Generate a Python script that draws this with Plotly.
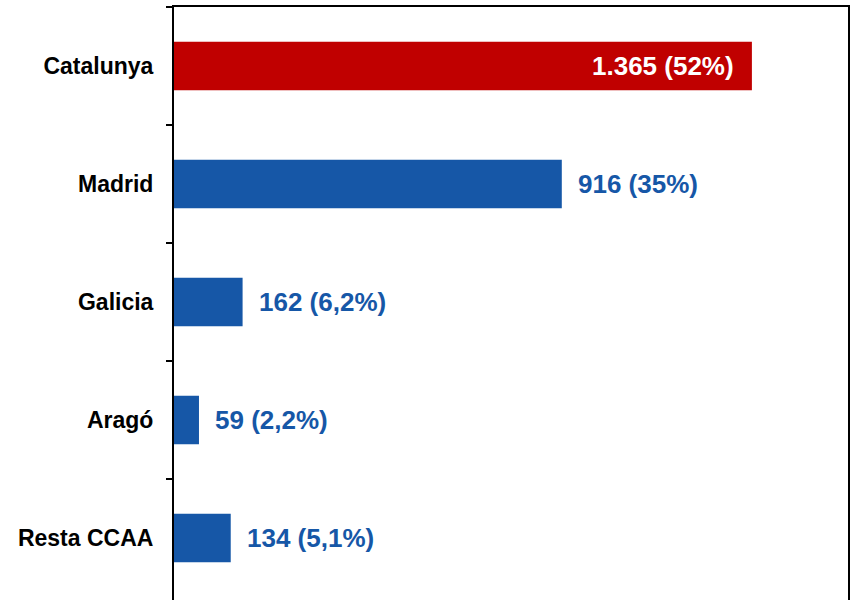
import plotly.graph_objects as go

regions = ["Resta CCAA", "Aragó", "Galicia", "Madrid", "Catalunya"]
values = [134, 59, 162, 916, 1365]
labels = ["134 (5,1%)", "59 (2,2%)", "162 (6,2%)", "916 (35%)", "1.365 (52%)"]
colors = ["#1657A7", "#1657A7", "#1657A7", "#1657A7", "#C00000"]
label_colors = ["#1657A7", "#1657A7", "#1657A7", "#1657A7", "#FFFFFF"]
inside = [False, False, False, False, True]
boundary_ticks = [0.5, 1.5, 2.5, 3.5, 4.5]

YRANGE = [-0.525, 4.5]

fig = go.Figure()
fig.add_trace(go.Bar(
    y=regions, x=values, orientation="h",
    marker=dict(color=colors, line=dict(width=0)),
    width=0.41, hoverinfo="skip",
))
# empty trace so the boundary-tick axis is drawn
fig.add_trace(go.Scatter(x=[], y=[], yaxis="y2", mode="markers", hoverinfo="skip"))

for r, v, t, c, ins in zip(regions, values, labels, label_colors, inside):
    fig.add_annotation(
        x=v, y=r, xref="x", yref="y", text=t, showarrow=False,
        xanchor="right" if ins else "left",
        xshift=-16 if ins else 14,
        font=dict(family="Liberation Sans, Arial", size=26, color=c, weight="bold"),
    )

fig.update_layout(
    width=851, height=600,
    margin=dict(l=174, r=3, t=7, b=0, autoexpand=False),
    plot_bgcolor="white", paper_bgcolor="white",
    showlegend=False,
    xaxis=dict(range=[0, 1592], showgrid=False, zeroline=False,
               showticklabels=False, ticks="", showline=True, automargin=False,
               linecolor="black", linewidth=2, side="top"),
    yaxis=dict(type="category", categoryorder="array", categoryarray=regions,
               range=YRANGE, ticks="", ticklabelstandoff=14, automargin=False,
               showline=True, linecolor="black", linewidth=2, mirror=True,
               showgrid=False, zeroline=False,
               tickfont=dict(family="Liberation Sans, Arial", size=23,
                             color="black", weight="bold")),
    yaxis2=dict(overlaying="y", anchor="x", side="left", range=YRANGE,
                tickvals=boundary_ticks, ticks="outside", ticklen=7,
                tickwidth=2, tickcolor="black", showticklabels=False,
                showline=False, showgrid=False, zeroline=False, automargin=False),
)

fig.write_html("out.html", config={"displayModeBar": False},
               post_script="document.body.style.margin='0px';")
